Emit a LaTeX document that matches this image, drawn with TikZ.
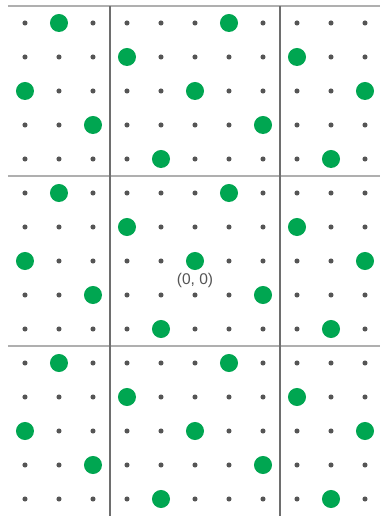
\documentclass[tikz,border=0pt]{standalone}
\usepackage{fontspec}
\setsansfont{Liberation Sans}
\usepackage{tikz}
\definecolor{ptgreen}{RGB}{0,166,81}
\definecolor{dotgray}{RGB}{85,85,85}
\definecolor{wallgray}{RGB}{110,110,110}
\definecolor{rulegray}{RGB}{175,175,175}
\def\xMin{-5.5}
\def\xMax{5.5}
\def\yMin{-7.5}
\def\yMax{7.5}
\tikzset{
  latpt/.style={circle, fill=dotgray, inner sep=0pt, minimum size=1.5mm},
  hitpt/.style={circle, fill=ptgreen, inner sep=0pt, minimum size=5.3mm},
  vwall/.style={wallgray, line width=1.2pt},
  hwall/.style={rulegray, line width=1.6pt},
  orilbl/.style={font=\sffamily\fontsize{13}{15}\selectfont, text=dotgray, inner sep=1pt},
}
\begin{document}
\begin{tikzpicture}
  \useasboundingbox (-5.735,-7.5) rectangle (5.441,7.676);
  % block borders
  \foreach \y in {-2.5,2.5,\yMax}
    \draw[hwall] (\xMin,\y) -- (\xMax,\y);
  \foreach \x in {-2.5,2.5}
    \draw[vwall] (\x,\yMin) -- (\x,\yMax);
  % lattice
  \foreach \x in {-5,...,5}
    \foreach \y in {-7,...,7}{
      \pgfmathtruncatemacro{\r}{mod(\x+2*\y+100,5)}
      \ifnum\r=0
        \node[hitpt] (p\x\y) at (\x,\y) {};
      \else
        \node[latpt] (p\x\y) at (\x,\y) {};
      \fi}
  \node[orilbl, below=1pt] (origin) at (p00.south) {(0, 0)};
\end{tikzpicture}
\end{document}
